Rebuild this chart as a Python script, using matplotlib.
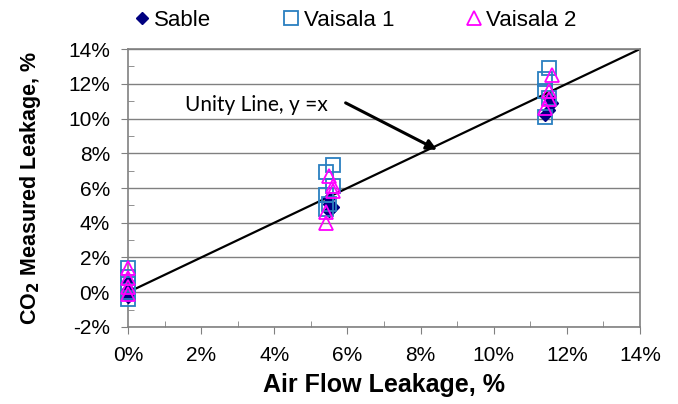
import numpy as np
import matplotlib.pyplot as plt
from matplotlib.ticker import MultipleLocator, FuncFormatter

# Valori (procente)
sable_x = [0.0, 0.0, 0.0, 0.0, 5.5, 5.5, 5.6, 5.5, 11.5, 11.6, 11.5, 11.4]
sable_y = [0.6, 0.2, -0.1, -0.3, 5.4, 5.1, 4.9, 4.7, 11.2, 10.9, 10.5, 10.2]

v1_x = [0.0, 0.0, 0.0, 0.0, 0.0, 5.6, 5.4, 5.6, 5.4, 5.4, 5.5, 11.4, 11.5, 11.4, 11.5, 11.4]
v1_y = [1.4, 0.9, 0.5, 0.0, -0.4, 7.3, 6.9, 6.1, 5.6, 4.8, 5.1, 12.3, 12.9, 11.6, 11.2, 10.1]

v2_x = [0.0, 0.0, 0.0, 0.0, 5.5, 5.6, 5.6, 5.4, 5.4, 11.6, 11.5, 11.5, 11.4]
v2_y = [1.4, 0.8, 0.3, -0.1, 6.7, 6.1, 5.8, 4.6, 4.0, 12.5, 11.6, 11.1, 10.6]

unity = [0, 14]

plt.rcParams['font.family'] = ['Liberation Sans', 'DejaVu Sans']

fig = plt.figure(figsize=(6.78, 4.04), dpi=100)
ax = fig.add_axes([0.1888, 0.1906, 0.7552, 0.6881])

ax.plot(unity, unity, color='black', lw=1.6, zorder=2)
ax.plot(sable_x, sable_y, ls='none', marker='D', ms=6, color='#000080',
        label='Sable', zorder=3, clip_on=False)
ax.plot(v1_x, v1_y, ls='none', marker='s', ms=10, mfc='none', mec='#2A7FC0',
        mew=1.3, label='Vaisala 1', zorder=4, clip_on=False)
ax.plot(v2_x, v2_y, ls='none', marker='^', ms=10, mfc='none', mec='#FF00FF',
        mew=1.3, label='Vaisala 2', zorder=5, clip_on=False)

ax.set_xlim(0, 14)
ax.set_ylim(-2, 14)
ax.xaxis.set_major_locator(MultipleLocator(2))
ax.yaxis.set_major_locator(MultipleLocator(2))
ax.xaxis.set_minor_locator(MultipleLocator(1))
ax.yaxis.set_minor_locator(MultipleLocator(1))
pct = FuncFormatter(lambda v, p: f'{v:.0f}%')
ax.xaxis.set_major_formatter(pct)
ax.yaxis.set_major_formatter(pct)
ax.tick_params(which='major', direction='out', length=5, color='#808080',
               labelsize=15)
ax.tick_params(axis='y', which='major', pad=8)
ax.tick_params(axis='x', which='major', pad=9)
ax.tick_params(which='minor', direction='in', length=4, color='#808080')
ax.grid(True, which='major', axis='y', color='#808080', lw=1)
ax.set_axisbelow(True)
for s in ax.spines.values():
    s.set_color('#808080')
    s.set_linewidth(1.2)

ax.set_xlabel('Air Flow Leakage, %', fontsize=18, fontweight='bold', va='center')
ax.set_ylabel('CO$_\\mathbf{2}$ Measured Leakage, %', fontsize=15.5,
              fontweight='bold', va='center')
ax.xaxis.set_label_coords(0.5, -0.21)
ax.yaxis.set_label_coords(-0.19, 0.5)

ax.text(1.55, 10.75, 'Unity Line, y =x', fontsize=15,
        family=['Lato', 'DejaVu Sans'], va='center')
ax.annotate('', xy=(8.45, 8.2), xytext=(5.95, 10.9),
            arrowprops=dict(arrowstyle='-|>', color='black', lw=2.2,
                            mutation_scale=15, shrinkA=0, shrinkB=0))

fig.legend(loc='upper center', bbox_to_anchor=(0.522, 1.025), ncol=3,
           frameon=False, fontsize=16, handletextpad=0.05,
           columnspacing=3.1, handlelength=1.0)

fig.savefig('out.png', dpi=100)
